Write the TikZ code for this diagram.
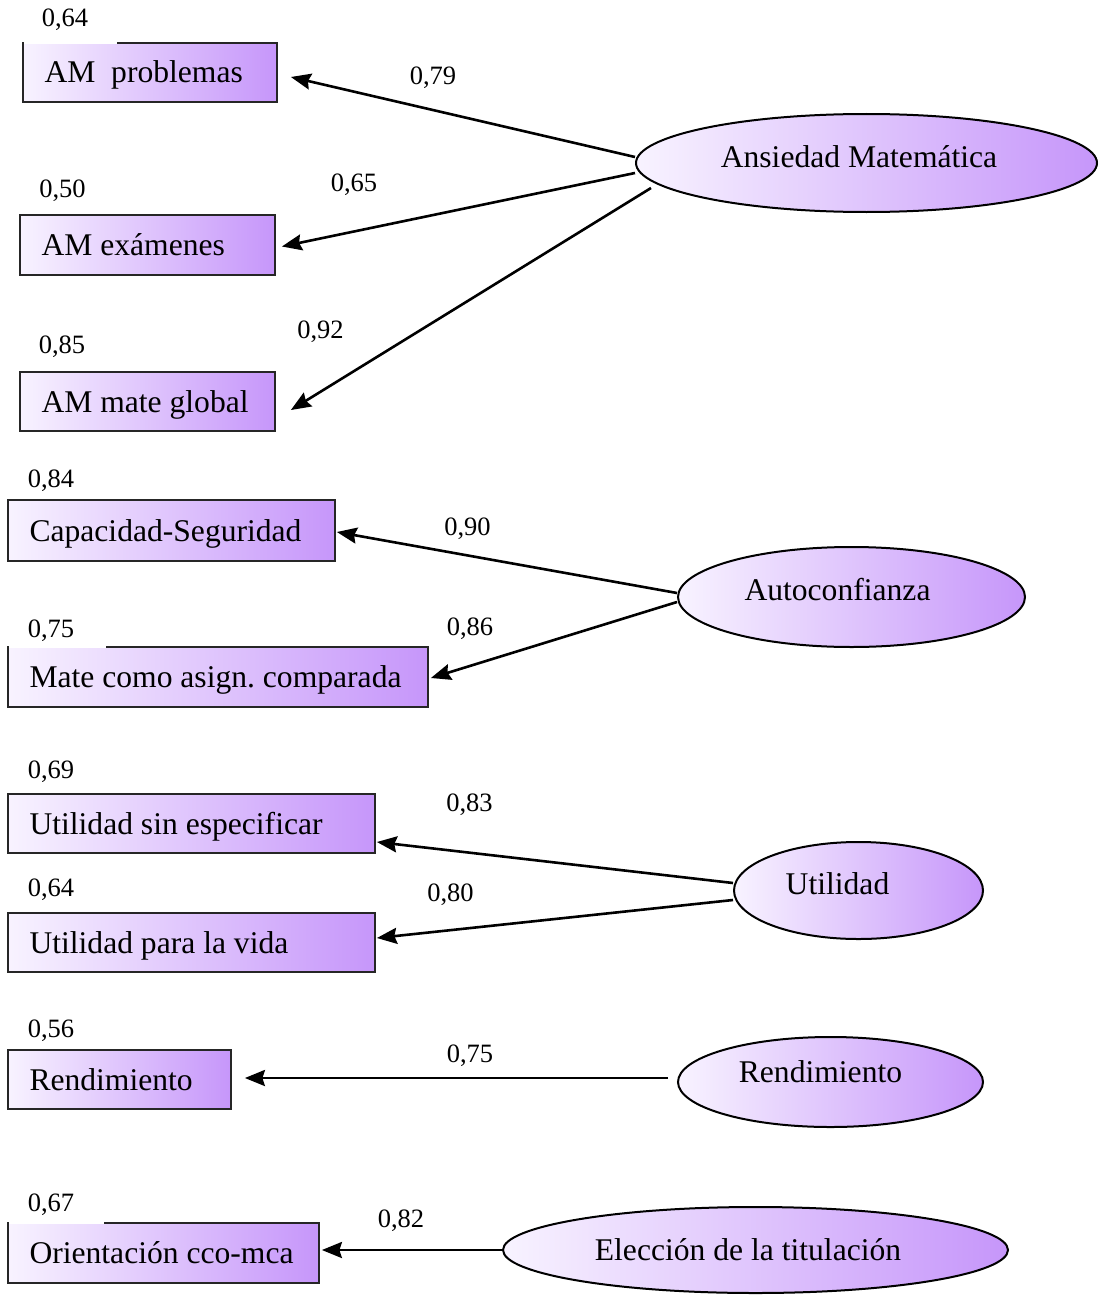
\documentclass[tikz,border=0pt]{standalone}
\usepackage{fontspec}
\setmainfont{Liberation Serif}
\usetikzlibrary{arrows.meta,calc,shapes.geometric}
\definecolor{gl}{RGB}{248,243,255}
\definecolor{gr}{RGB}{198,150,250}
\tikzset{
  box/.style={rectangle, draw=black!85, line width=1.8pt, left color=gl, right color=gr,
    inner xsep=21.5pt, inner ysep=0pt, text height=21pt, text depth=0pt,
    font=\fontsize{31.6}{38}\selectfont},
  lat/.style={ellipse, draw=black, line width=2pt, left color=gl, right color=gr, inner sep=0pt},
  ltxt/.style={font=\fontsize{31.6}{38}\selectfont, text height=21pt, text depth=0pt, inner sep=0pt},
  num/.style={font=\fontsize{26.5}{32}\selectfont, anchor=base, inner sep=0pt},
  conn/.style={draw=black, line width=2.6pt, -{Stealth[length=20pt,width=16pt,inset=2.5pt]}},
  gap/.style={draw=white, line width=3pt}
}
\begin{document}
\begin{tikzpicture}[x=1pt,y=-1pt]
\useasboundingbox (0,0) rectangle (1099,1295);

% observed variables
\node[box, minimum height=59pt] (b1) at (150,72.5)    {\makebox[211pt][l]{AM\ \ problemas}};
\node[box, minimum height=60pt] (b2) at (147.5,245)   {\makebox[212pt][l]{AM exámenes}};
\node[box, minimum height=59pt] (b3) at (147.5,401.5) {\makebox[212pt][l]{AM mate global}};
\node[box, minimum height=61pt] (b4) at (171.5,530.5) {\makebox[284pt][l]{Capacidad-Seguridad}};
\node[box, minimum height=60pt] (b5) at (218,677)     {\makebox[377pt][l]{Mate como asign.\ comparada}};
\node[box, minimum height=59pt] (b6) at (191.5,823.5) {\makebox[324pt][l]{Utilidad sin especificar}};
\node[box, minimum height=59pt] (b7) at (191.5,942.5) {\makebox[324pt][l]{Utilidad para la vida}};
\node[box, minimum height=59pt] (b8) at (119.5,1079.5){\makebox[180pt][l]{Rendimiento}};
\node[box, minimum height=60pt] (b9) at (163.5,1253)  {\makebox[268pt][l]{Orientación cco-mca}};

% latent variables
\node[lat, minimum width=461pt, minimum height=98pt]  (e1) at (866.5,163)  {};
\node[lat, minimum width=347pt, minimum height=100pt] (e2) at (851.5,597)  {};
\node[lat, minimum width=249pt, minimum height=97pt]  (e3) at (858.5,890.5){};
\node[lat, minimum width=305pt, minimum height=90pt]  (e4) at (830.5,1082) {};
\node[lat, minimum width=505pt, minimum height=86pt]  (e5) at (755.5,1250) {};

\node[ltxt] (t1) at (859,157)    {Ansiedad Matemática};
\node[ltxt] (t2) at (837.5,590)  {Autoconfianza};
\node[ltxt] (t3) at (837.5,883.5){Utilidad};
\node[ltxt] (t4) at (820.5,1071.5){Rendimiento};
\node[ltxt] (t5) at (748,1250)   {Elección de la titulación};

% connectors
\draw[conn] ($(e1.west)+(0,-6)$)   -- ($(b1.east)+(13,4.5)$);
\draw[conn] ($(e1.west)+(0,10)$)   -- ($(b2.east)+(6,1.5)$);
\draw[conn] ($(e1.west)+(16,25)$)  -- ($(b3.east)+(15,8.5)$);
\draw[conn] ($(e2.west)+(0,-4)$)   -- ($(b4.east)+(1,1.5)$);
\draw[conn] ($(e2.west)+(0,5)$)    -- ($(b5.east)+(2,1)$);
\draw[conn] ($(e3.west)+(0,-7.5)$) -- ($(b6.east)+(1,18.5)$);
\draw[conn] ($(e3.west)+(0,9.5)$)  -- ($(b7.east)+(1,-4.5)$);
\draw[conn] ($(e4.west)+(-9,-4)$)  -- ($(b8.east)+(13,-1.5)$);
\draw[conn] (e5.west)              -- ($(b9.east)+(2,-3)$);

% gaps in top borders left by label backgrounds
\draw[gap] ($(b1.north west)+(1.9,0)$) -- ($(b1.north west)+(95,0)$);
\draw[gap] ($(b5.north west)+(1.9,0)$) -- ($(b5.north west)+(99,0)$);
\draw[gap] ($(b9.north west)+(1.9,0)$) -- ($(b9.north west)+(97,0)$);

% error / residual labels
\node[num] (l1) at (65,27)    {0,64};
\node[num] (l2) at (62.5,197) {0,50};
\node[num] (l3) at (62,353)   {0,85};
\node[num] (l4) at (51,487)   {0,84};
\node[num] (l5) at (51,637)   {0,75};
\node[num] (l6) at (51,778)   {0,69};
\node[num] (l7) at (51,896)   {0,64};
\node[num] (l8) at (51,1037)  {0,56};
\node[num] (l9) at (51,1211)  {0,67};

% loading labels
\node[num] (m1) at (433,85)    {0,79};
\node[num] (m2) at (354,191)   {0,65};
\node[num] (m3) at (320.5,338) {0,92};
\node[num] (m4) at (467.5,535) {0,90};
\node[num] (m5) at (470,635)   {0,86};
\node[num] (m6) at (469.5,811) {0,83};
\node[num] (m7) at (450.5,901) {0,80};
\node[num] (m8) at (470,1062)  {0,75};
\node[num] (m9) at (401,1227)  {0,82};
\end{tikzpicture}
\end{document}
